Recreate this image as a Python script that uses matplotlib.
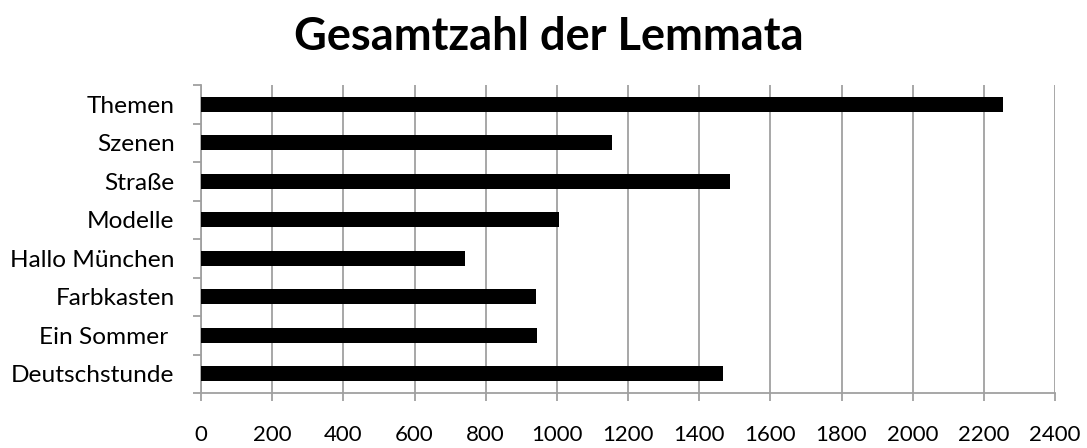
import matplotlib
matplotlib.use("Agg")
import matplotlib.pyplot as plt
from matplotlib.ticker import FixedLocator

plt.rcParams['font.family'] = ['Lato', 'DejaVu Sans']

categories = ["Themen", "Szenen", "Straße", "Modelle", "Hallo München",
              "Farbkasten", "Ein Sommer ", "Deutschstunde"]
values = [2255, 1156, 1486, 1007, 742, 941, 945, 1466]
x_ticks = list(range(0, 2401, 200))
title = "Gesamtzahl der Lemmata"

fig = plt.figure(figsize=(10.87, 4.48), dpi=100)
ax = fig.add_axes([201/1087, 1 - 393/448, (1055 - 201)/1087, (393 - 85)/448])

pos = list(range(len(categories)))
ax.barh(pos, values, height=0.4, color="black", zorder=3)

ax.set_xlim(0, 2400)
ax.set_ylim(len(categories) - 0.5, -0.5)

grid_c = "#a0a0a0"
ax.set_xticks(x_ticks)
ax.set_xticklabels([str(t) for t in x_ticks])
ax.xaxis.grid(True, color=grid_c, linewidth=1.3, zorder=0)
ax.set_axisbelow(True)

ax.set_yticks(pos)
ax.set_yticklabels(categories)
ax.yaxis.set_minor_locator(FixedLocator([p - 0.5 for p in pos] + [pos[-1] + 0.5]))

ax.tick_params(axis='x', which='major', length=6, width=1.3, color=grid_c,
               pad=17, labelsize=16)
ax.tick_params(axis='y', which='major', length=0, pad=19, labelsize=17.6)
ax.tick_params(axis='y', which='minor', length=6, width=1.3, color=grid_c)

for s in ["top", "right"]:
    ax.spines[s].set_visible(False)
for s in ["left", "bottom"]:
    ax.spines[s].set_color(grid_c)
    ax.spines[s].set_linewidth(1.3)

fig.text(0.505, 0.918, title, ha="center", va="center",
         fontsize=32.5, fontweight="bold")

fig.savefig("out.png", dpi=100)
